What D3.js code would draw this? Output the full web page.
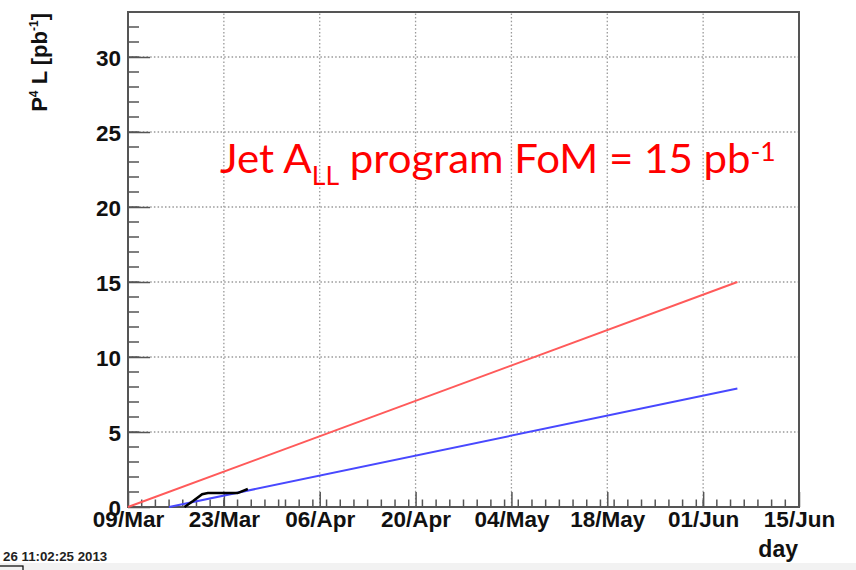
<!DOCTYPE html>
<html lang="en">
<head>
  <meta charset="UTF-8">
  <title>Jet ALL FoM</title>
  <script src="https://d3js.org/d3.v7.min.js"></script>
  <style>
    body { margin: 0; background: #fff; }
  </style>
</head>
<body>
  <script>
    // chart data
    const xStart = "2013-03-09";
    const xEnd = "2013-06-15";
    const yMax = 33;
    const tickDates = ["2013-03-09", "2013-03-23", "2013-04-06", "2013-04-20", "2013-05-04", "2013-05-18", "2013-06-01", "2013-06-15"];
    const yTicks = [0, 5, 10, 15, 20, 25, 30];

    // goal line (FoM = 15 pb^-1)
    const goalDates = ["2013-03-09", "2013-06-06"];
    const goalValues = [0, 15];

    // projected line
    const projDates = ["2013-03-15", "2013-06-06"];
    const projValues = [0, 7.9];

    // delivered so far
    const delivDates = ["2013-03-17T06:00", "2013-03-18T12:00", "2013-03-19T20:00", "2013-03-20T16:00", "2013-03-25T00:00", "2013-03-26T12:00"];
    const delivValues = [0, 0.4, 0.85, 0.93, 0.93, 1.2];

    const width = 856;
    const height = 570;
    const plotL = 128, plotR = 799, plotT = 12, plotB = 507;

    const parse = s => new Date(s.length > 10 ? s + "Z" : s + "T00:00:00Z");

    const svg = d3.select("body")
      .append("svg")
      .attr("width", width)
      .attr("height", height);

    const x = d3.scaleUtc()
      .domain([parse(xStart), parse(xEnd)])
      .range([plotL, plotR]);

    const y = d3.scaleLinear()
      .domain([0, yMax])
      .range([plotB, plotT]);

    // grey strip at the bottom of the slide
    svg.append("rect")
      .attr("x", 0).attr("y", 563)
      .attr("width", width).attr("height", height - 563)
      .attr("fill", "#f2f2f2");
    svg.append("rect")
      .attr("x", -1).attr("y", 566)
      .attr("width", 24).attr("height", 10)
      .attr("fill", "none")
      .attr("stroke", "#000")
      .attr("stroke-width", 1.2);

    // grid
    const grid = svg.append("g")
      .attr("stroke", "#999")
      .attr("stroke-width", 1.3)
      .attr("stroke-dasharray", "1.5,2.2");
    grid.selectAll("line.v")
      .data(tickDates.slice(1, -1))
      .enter().append("line")
      .attr("x1", d => x(parse(d))).attr("x2", d => x(parse(d)))
      .attr("y1", plotB).attr("y2", plotT);
    grid.selectAll("line.h")
      .data(yTicks.slice(1))
      .enter().append("line")
      .attr("x1", plotL).attr("x2", plotR)
      .attr("y1", d => y(d)).attr("y2", d => y(d));

    // x axis: major every 14 days, minor every 2 days
    const xAxis = d3.axisBottom(x)
      .tickValues(tickDates.map(parse))
      .tickFormat(d3.utcFormat("%d/%b"))
      .tickSizeInner(-15)
      .tickSizeOuter(0)
      .tickPadding(20);
    const minorX = d3.utcDay.every(2).range(parse(xStart), parse(xEnd));
    svg.append("g")
      .selectAll("line")
      .data(minorX)
      .enter().append("line")
      .attr("x1", d => x(d)).attr("x2", d => x(d))
      .attr("y1", plotB).attr("y2", plotB - 7.5)
      .attr("stroke", "#555")
      .attr("stroke-width", 1.5);

    const gx = svg.append("g")
      .attr("transform", `translate(0,${plotB})`)
      .call(xAxis);
    gx.select(".domain").remove();
    gx.selectAll(".tick line").attr("stroke", "#555").attr("stroke-width", 1.5);
    gx.selectAll(".tick text")
      .attr("font-family", "Liberation Sans, Arial, sans-serif")
      .attr("font-weight", "bold")
      .attr("font-size", 22.5)
      .attr("fill", "#111")
      .attr("dy", 0)
      .attr("y", 20);

    // y axis: major every 5, minor every 1
    const yAxis = d3.axisLeft(y)
      .tickValues(yTicks)
      .tickSizeInner(-22)
      .tickSizeOuter(0)
      .tickPadding(7);
    svg.append("g")
      .selectAll("line")
      .data(d3.range(0, yMax + 1))
      .enter().append("line")
      .attr("x1", plotL).attr("x2", plotL + 11)
      .attr("y1", d => y(d)).attr("y2", d => y(d))
      .attr("stroke", "#555")
      .attr("stroke-width", 1.5);
    const gy = svg.append("g")
      .attr("transform", `translate(${plotL},0)`)
      .call(yAxis);
    gy.select(".domain").remove();
    gy.selectAll(".tick line").attr("stroke", "#555").attr("stroke-width", 1.5);
    gy.selectAll(".tick text")
      .attr("font-family", "Liberation Sans, Arial, sans-serif")
      .attr("font-weight", "bold")
      .attr("font-size", 22.5)
      .attr("fill", "#111")
      .attr("dy", "0.36em")
      .attr("x", -7);

    // frame
    svg.append("rect")
      .attr("x", plotL).attr("y", plotT)
      .attr("width", plotR - plotL).attr("height", plotB - plotT)
      .attr("fill", "none")
      .attr("stroke", "#555")
      .attr("stroke-width", 2);

    // lines
    const line = d3.line()
      .x(d => x(parse(d[0])))
      .y(d => y(d[1]));

    svg.append("path")
      .attr("d", line(d3.zip(goalDates, goalValues)))
      .attr("fill", "none")
      .attr("stroke", "#ff5a5a")
      .attr("stroke-width", 2);

    svg.append("path")
      .attr("d", line(d3.zip(projDates, projValues)))
      .attr("fill", "none")
      .attr("stroke", "#4848ff")
      .attr("stroke-width", 2);

    svg.append("path")
      .attr("d", line(d3.zip(delivDates, delivValues)))
      .attr("fill", "none")
      .attr("stroke", "#000")
      .attr("stroke-width", 2.5);

    // titles
    svg.append("text")
      .attr("x", plotR - 1)
      .attr("y", 557)
      .attr("text-anchor", "end")
      .attr("font-family", "Liberation Sans, Arial, sans-serif")
      .attr("font-weight", "bold")
      .attr("font-size", 23)
      .attr("fill", "#111")
      .text("day");

    const yt = svg.append("text")
      .attr("transform", "translate(47,13) rotate(-90)")
      .attr("text-anchor", "end")
      .attr("font-family", "Liberation Sans, Arial, sans-serif")
      .attr("font-weight", "bold")
      .attr("font-size", 22)
      .attr("fill", "#111");
    yt.append("tspan").text("P");
    yt.append("tspan").attr("font-size", 12).attr("dy", -9).text("4");
    yt.append("tspan").attr("dy", 9).text(" L [pb");
    yt.append("tspan").attr("font-size", 12).attr("dy", -9).text("-1");
    yt.append("tspan").attr("dy", 9).text("]");

    svg.append("text")
      .attr("x", 3)
      .attr("y", 561)
      .attr("font-family", "Liberation Sans, Arial, sans-serif")
      .attr("font-weight", "bold")
      .attr("font-size", 13.3)
      .attr("fill", "#222")
      .text("26 11:02:25 2013");

    // annotation
    const note = svg.append("text")
      .attr("x", 0)
      .attr("y", 0)
      .attr("font-family", "Lato, Open Sans, sans-serif")
      .attr("font-size", 41)
      .attr("fill", "#ff0000");
    note.append("tspan").text("Jet A");
    note.append("tspan").attr("font-size", 26).attr("dy", 12).text("LL");
    note.append("tspan").attr("dy", -12).text(" program FoM = 15 pb");
    note.append("tspan").attr("font-size", 26).attr("dy", -12).text("-1");
    const bb = note.node().getBBox();
    const noteL = 220, noteR = 776;
    note.attr("transform", `translate(${noteL - bb.x},173) scale(${(noteR - noteL) / bb.width},1)`);
  </script>
</body>
</html>
